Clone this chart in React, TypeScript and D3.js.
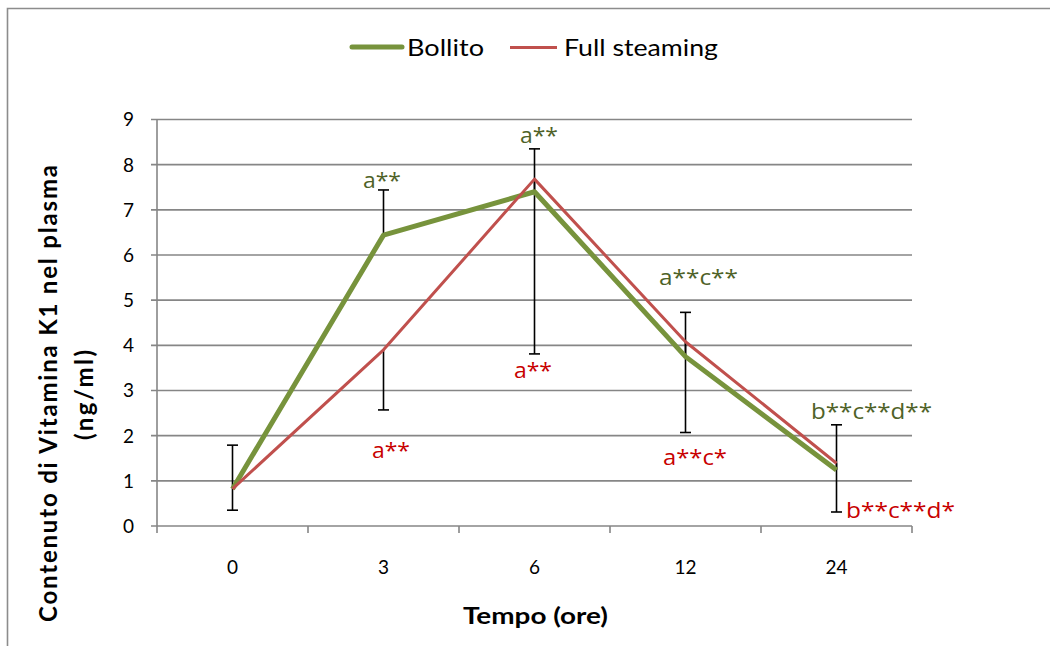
import React from "react";
import * as d3 from "d3";

// Sampling times (hours) and plasma vitamin K1 content (ng/ml)
const categories = ["0", "3", "6", "12", "24"];
const bollito = [0.82, 6.44, 7.4, 3.75, 1.24];
const fullSteaming = [0.82, 3.9, 7.68, 4.08, 1.39];
// Bollito shows the upper error bar, Full steaming the lower one
const bollitoErrPlus = [0.97, 1.0, 0.95, 0.98, 1.0];
const steamingErrMinus = [0.47, 1.33, 3.87, 2.01, 1.08];
// Significance letters
const bollitoLabels = ["", "a**", "a**", "a**c**", "b**c**d**"];
const steamingLabels = ["", "a**", "a**", "a**c*", "b**c**d*"];
const yTicks = [0, 1, 2, 3, 4, 5, 6, 7, 8, 9];

const W = 1050;
const H = 646;
const FONT = "Lato, 'Open Sans', sans-serif";
const LABEL_FONT = "'Open Sans', Lato, sans-serif";
const GREEN = "#77933C";
const RED = "#C0504D";
const GREEN_TXT = "#4F6228";
const RED_TXT = "#C80000";
const GRID = "#868686";

// Label placement: start offset from the category centre, baseline offset from the error-bar end, text width
const greenLabelLayout = [
  null,
  { dx: -20.5, dy: -1.6, w: 38 },
  { dx: -14.5, dy: -5.5, w: 38 },
  { dx: -26.5, dy: -27, w: 79 },
  { dx: -25.5, dy: -5.5, w: 121 },
];
const redLabelLayout = [
  null,
  { dx: -11.5, dy: 48.4, w: 38 },
  { dx: -20.5, dy: 24.4, w: 38 },
  { dx: -22.5, dy: 32.5, w: 64 },
  { dx: 9.5, dy: 5.7, w: 109 },
];

export default function App() {
  const x = d3.scaleBand<string>().domain(categories).range([157, 912]).padding(0);
  const y = d3.scaleLinear().domain([0, 9]).range([526, 119.5]);
  const cx = (c: string) => (x(c) as number) + x.bandwidth() / 2;

  const line = d3
    .line<number>()
    .x((_, i) => cx(categories[i]))
    .y((v) => y(v));

  const capHalf = 5.5;
  const plotLeft = x.range()[0];
  const plotRight = x.range()[1];

  return (
    <svg
      width={W}
      height={H}
      style={{ position: "absolute", left: 0, top: 0, background: "#fff" }}
      fontFamily={FONT}
    >
      <rect x={0} y={0} width={W} height={H} fill="#fff" />
      {/* chart frame */}
      <path d={`M7.5,${H + 2} V8.5 H${W + 2}`} fill="none" stroke="#8c8c8c" strokeWidth={1.6} />

      {/* horizontal gridlines */}
      {yTicks.map((t) => (
        <line
          key={`g${t}`}
          x1={plotLeft - 6}
          x2={plotRight}
          y1={y(t)}
          y2={y(t)}
          stroke={GRID}
          strokeWidth={1.6}
        />
      ))}
      {/* y axis */}
      <line x1={plotLeft} x2={plotLeft} y1={y(9)} y2={y(0)} stroke={GRID} strokeWidth={1.6} />
      {yTicks.map((t) => (
        <text
          key={`yl${t}`}
          x={134}
          y={y(t)}
          dy="0.36em"
          textAnchor="end"
          fontSize={19}
          fill="#000"
        >
          {t}
        </text>
      ))}
      {/* x axis ticks at category boundaries */}
      {[...categories.map((c) => x(c) as number), plotRight].map((bx, i) => (
        <line key={`xt${i}`} x1={bx} x2={bx} y1={y(0)} y2={y(0) + 7} stroke={GRID} strokeWidth={1.6} />
      ))}
      {categories.map((c) => (
        <text key={`xl${c}`} x={cx(c)} y={573.5} textAnchor="middle" fontSize={19} fill="#000">
          {c}
        </text>
      ))}

      {/* error bars */}
      {categories.map((c, i) => {
        const px = cx(c);
        const top = y(bollito[i] + bollitoErrPlus[i]);
        const bot = y(fullSteaming[i] - steamingErrMinus[i]);
        return (
          <g key={`eb${c}`} stroke="#000" strokeWidth={1.6}>
            <line x1={px} x2={px} y1={top} y2={y(bollito[i])} />
            <line x1={px - capHalf} x2={px + capHalf} y1={top} y2={top} />
            <line x1={px} x2={px} y1={y(fullSteaming[i])} y2={bot} />
            <line x1={px - capHalf} x2={px + capHalf} y1={bot} y2={bot} />
          </g>
        );
      })}

      {/* series */}
      <path d={line(bollito) ?? ""} fill="none" stroke={GREEN} strokeWidth={5} strokeLinejoin="round" />
      <path d={line(fullSteaming) ?? ""} fill="none" stroke={RED} strokeWidth={3} strokeLinejoin="round" />

      {/* significance letters */}
      {categories.map((c, i) => {
        const lay = greenLabelLayout[i];
        if (!lay || !bollitoLabels[i]) return null;
        return (
          <text
            key={`lg${c}`}
            x={cx(c) + lay.dx}
            y={y(bollito[i] + bollitoErrPlus[i]) + lay.dy}
            fontFamily={LABEL_FONT}
            fontSize={22}
            fill={GREEN_TXT}
            textLength={lay.w}
            lengthAdjust="spacingAndGlyphs"
          >
            {bollitoLabels[i]}
          </text>
        );
      })}
      {categories.map((c, i) => {
        const lay = redLabelLayout[i];
        if (!lay || !steamingLabels[i]) return null;
        return (
          <text
            key={`lr${c}`}
            x={cx(c) + lay.dx}
            y={y(fullSteaming[i] - steamingErrMinus[i]) + lay.dy}
            fontFamily={LABEL_FONT}
            fontSize={22}
            fill={RED_TXT}
            textLength={lay.w}
            lengthAdjust="spacingAndGlyphs"
          >
            {steamingLabels[i]}
          </text>
        );
      })}

      {/* legend */}
      <line x1={352} x2={402} y1={47} y2={47} stroke={GREEN} strokeWidth={5} strokeLinecap="round" />
      <text x={407} y={56} fontSize={24} fill="#000" textLength={77} lengthAdjust="spacingAndGlyphs">
        Bollito
      </text>
      <line x1={510} x2={557} y1={47.5} y2={47.5} stroke={RED} strokeWidth={3} />
      <text x={564} y={56} fontSize={24} fill="#000" textLength={154} lengthAdjust="spacingAndGlyphs">
        Full steaming
      </text>

      {/* axis titles */}
      <text
        x={535.5}
        y={624}
        textAnchor="middle"
        fontSize={22}
        fontWeight="bold"
        fill="#000"
        textLength={145}
        lengthAdjust="spacingAndGlyphs"
      >
        Tempo (ore)
      </text>
      <g transform="translate(57,393.5) rotate(-90)">
        <text
          x={0}
          y={0}
          textAnchor="middle"
          fontSize={24}
          fontWeight="bold"
          fill="#000"
          textLength={457}
          lengthAdjust="spacing"
        >
          Contenuto di Vitamina K1 nel plasma
        </text>
      </g>
      <g transform="translate(93,395) rotate(-90)">
        <text
          x={0}
          y={0}
          textAnchor="middle"
          fontSize={24}
          fontWeight="bold"
          fill="#000"
          textLength={90}
          lengthAdjust="spacing"
        >
          (ng/ml)
        </text>
      </g>
    </svg>
  );
}
